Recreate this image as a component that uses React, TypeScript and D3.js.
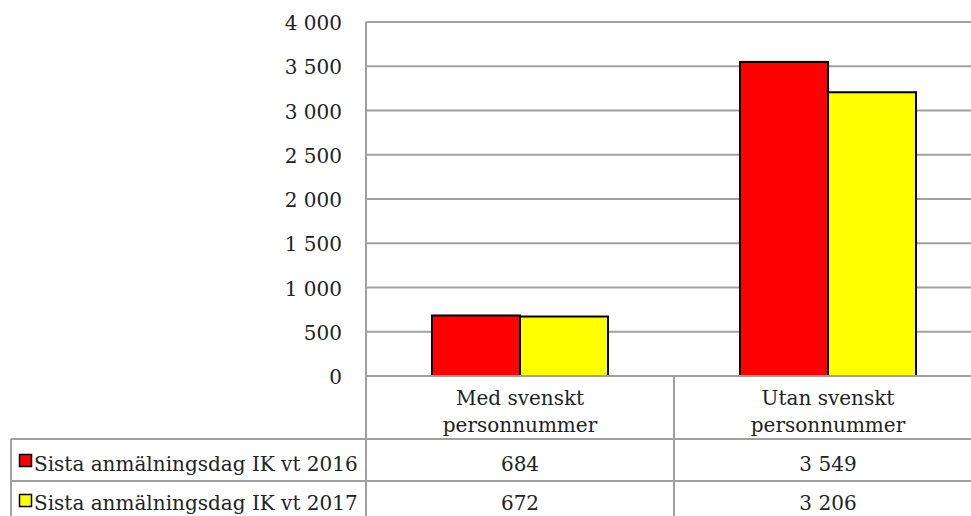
import React from 'react';
import * as d3 from 'd3';

// data
const categories = [['Med svenskt', 'personnummer'], ['Utan svenskt', 'personnummer']];
const seriesNames = ['Sista anmälningsdag IK vt 2016', 'Sista anmälningsdag IK vt 2017'];
const values2016 = [684, 3549];
const values2017 = [672, 3206];
const seriesColors = ['#ff0000', '#ffff00'];
const yTicks = [0, 500, 1000, 1500, 2000, 2500, 3000, 3500, 4000];

const W = 971;
const H = 516;
const plotLeft = 366;
const plotRight = 982;
const plotTop = 22;
const plotBottom = 376;
const catRowBottom = 439;
const rowH = 42;
const tableLeft = 11;
const font = 'DejaVu Serif';
const fs = 20;
const grid = '#a0a0a0';

// numbers with a space as thousands separator
const fmtSp = (v: number) => d3.format(',')(v).replace(/,/g, ' ');

const App = () => {
    const y = d3.scaleLinear().domain([0, 4000]).range([plotBottom, plotTop]);
    const x = d3
        .scaleBand<number>()
        .domain(categories.map((_, i) => i))
        .range([plotLeft, plotRight]);
    const bw = x.bandwidth();
    // Excel-like gap width of 150%
    const barW = bw / (2 + 1.5);
    const inner = d3
        .scaleBand<number>()
        .domain([0, 1])
        .range([0, barW * 2]);
    const series = [values2016, values2017];

    return (
        <svg
            width={W}
            height={H}
            style={{ position: 'absolute', left: 0, top: 0, background: '#fff' }}
            fontFamily={font}
        >
            {/* gridlines */}
            {yTicks.map(t => (
                <line key={t} x1={plotLeft} x2={plotRight} y1={y(t)} y2={y(t)} stroke={grid} strokeWidth={2} />
            ))}
            {/* y tick labels */}
            {yTicks.map(t => (
                <text key={'l' + t} x={342} y={y(t)} dy="0.4em" textAnchor="end" fontSize={fs} fill="#222">
                    {fmtSp(t)}
                </text>
            ))}
            {/* bars */}
            {series.map((vals, s) =>
                vals.map((v, i) => (
                    <rect
                        key={s + '-' + i}
                        x={(x(i) as number) + (bw - barW * 2) / 2 + (inner(s) as number)}
                        y={y(v)}
                        width={barW}
                        height={plotBottom - y(v)}
                        fill={seriesColors[s]}
                        stroke="#000"
                        strokeWidth={2}
                    />
                ))
            )}
            {/* axis line */}
            <line x1={plotLeft} x2={plotLeft} y1={plotTop} y2={H} stroke={grid} strokeWidth={2} />
            {/* table lines */}
            <line x1={plotLeft} x2={plotRight} y1={plotBottom} y2={plotBottom} stroke={grid} strokeWidth={2} />
            <line x1={tableLeft} x2={plotRight} y1={catRowBottom} y2={catRowBottom} stroke={grid} strokeWidth={2} />
            <line x1={tableLeft} x2={plotRight} y1={catRowBottom + rowH} y2={catRowBottom + rowH} stroke={grid} strokeWidth={2} />
            <line x1={tableLeft} x2={tableLeft} y1={catRowBottom} y2={H} stroke={grid} strokeWidth={2} />
            {categories.map((_, i) => (
                <line
                    key={'v' + i}
                    x1={(x(i) as number) + bw}
                    x2={(x(i) as number) + bw}
                    y1={plotBottom}
                    y2={H}
                    stroke={grid}
                    strokeWidth={2}
                />
            ))}
            {/* category labels */}
            {categories.map((lines, i) => (
                <text key={'c' + i} x={(x(i) as number) + bw / 2} textAnchor="middle" fontSize={fs} fill="#222">
                    {lines.map((ln, j) => (
                        <tspan key={j} x={(x(i) as number) + bw / 2} y={405 + j * 27}>
                            {ln}
                        </tspan>
                    ))}
                </text>
            ))}
            {/* legend rows with values */}
            {seriesNames.map((name, s) => {
                const rowTop = catRowBottom + s * rowH;
                const base = rowTop + 32 - s * 3;
                return (
                    <g key={'r' + s}>
                        <rect x={19.5} y={rowTop + 15.5 - s * 2} width={12} height={12} fill={seriesColors[s]} stroke="#000" strokeWidth={1.5} />
                        <text x={34} y={base} fontSize={fs} fill="#222">
                            {name}
                        </text>
                        {series[s].map((v, i) => (
                            <text
                                key={i}
                                x={(x(i) as number) + bw / 2}
                                y={base}
                                textAnchor="middle"
                                fontSize={fs}
                                fill="#222"
                            >
                                {fmtSp(v)}
                            </text>
                        ))}
                    </g>
                );
            })}
        </svg>
    );
};

export default App;
